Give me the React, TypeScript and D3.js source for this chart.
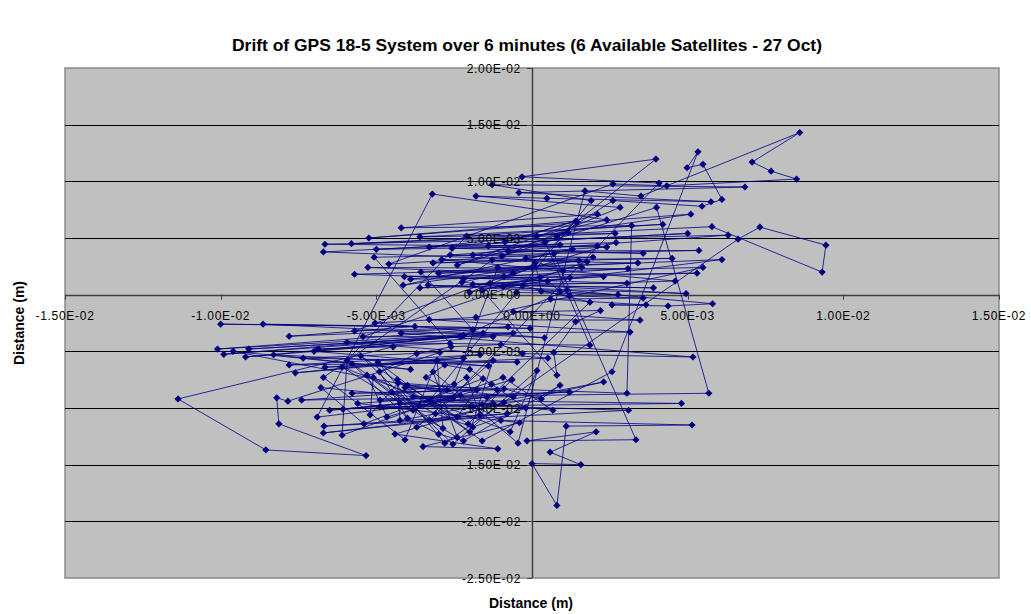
import React from "react";
import * as d3 from "d3";

// GPS drift track, values in millimetres (converted to metres below), in time order
const trackMM: [number, number][] = [
  [-0.5,0.2],[2.76,0.0],[-3.34,0.84],[4.95,0.1],[-1.35,1.0],[3.05,1.0],[-5.7,1.8],[1.6,2.4],[-3.0,1.9],[5.49,2.4],
  [-1.8,-2.0],[-5.04,-2.5],[0.4,-3.8],[-8.64,-2.6],[-0.06,-2.97],[-10.0,-2.6],[-3.76,-2.8],[-7.8,-3.67],[-0.77,-2.85],[-5.7,-3.2],
  [-0.6,1.9],[-5.27,2.4],[3.08,2.3],[-2.2,1.4],[5.3,1.9],[-4.1,1.6],[1.22,1.5],[-0.93,0.7],[6.1,3.1],[-3.57,2.0],
  [-1.9,-3.1],[-10.1,-4.8],[-1.57,-3.4],[-9.9,-5.26],[-0.61,-3.4],[-9.1,-4.8],[-2.3,-3.7],[-9.2,-5.5],[-1.25,-3.7],[-5.43,-3.7],
  [1.77,2.9],[-6.7,3.77],[5.0,5.4],[-5.0,4.0],[2.1,4.3],[-2.57,4.1],[3.57,3.65],[-0.77,3.84],[5.36,3.9],[-5.07,3.3],
  [-2.63,-4.3],[-6.87,-4.8],[-4.46,-4.6],[-11.37,-9.2],[-8.55,-13.7],[-5.33,-14.2],[-8.13,-11.4],[-8.2,-9.1],[-7.84,-9.4],[-2.96,-5.1],
  [-7.35,-5.6],[-0.48,-5.95],[-7.8,-6.2],[-1.67,-5.3],[-7.6,-6.9],[-2.2,-5.6],[-6.65,-6.4],[0.51,-5.6],[-5.94,-4.2],[1.86,-4.46],
  [0.42,4.64],[-1.9,3.5],[2.4,4.2],[-6.65,4.45],[6.3,5.25],[-2.63,3.5],[1.96,3.3],[-3.18,2.8],[4.5,3.2],[-1.28,3.05],
  [-6.7,-7.3],[-4.08,-12.8],[-3.05,-5.8],[-2.86,-11.8],[-5.78,-6.1],[-3.7,-11.7],[-1.25,-5.8],[-2.0,-12.1],[-4.95,-5.95],[-2.8,-13.1],
  [6.62,4.9],[7.32,5.96],[9.44,4.37],[9.32,1.99],[5.78,6.0],[-5.8,4.5],[2.67,5.4],[-3.6,5.1],[4.2,6.2],[-2.1,5.17],
  [-5.94,-5.8],[-6.1,-12.4],[-0.93,-7.3],[0.67,-10.2],[-6.78,-8.2],[-5.4,-11.4],[-1.57,-7.4],[-2.4,-10.8],[-5.1,-7.3],[-5.2,-10.6],
  [-4.3,-7.8],[-1.12,-8.4],[-5.78,-8.7],[-1.77,-8.4],[-4.08,-8.2],[-2.73,-8.4],[-7.4,-9.3],[-0.6,-9.0],[-4.0,-8.0],[3.05,-8.7],
  [3.2,6.1],[-4.2,5.9],[2.1,7.1],[-0.87,4.64],[1.41,6.5],[-5.24,5.0],[5.1,7.1],[0.16,5.17],[2.4,6.6],[-3.2,8.88],
  [-6.9,-10.8],[-1.45,-9.05],[-6.5,-10.2],[-2.54,-9.15],[-6.07,-10.1],[-1.25,-9.6],[-4.88,-9.3],[1.2,-8.6],[-3.82,-9.0],[5.68,-8.7],
  [4.0,7.7],[-0.96,3.4],[2.83,7.7],[-1.8,8.7],[0.48,8.5],[5.75,8.2],[-0.42,9.0],[6.84,9.5],[-1.28,9.7],[1.9,8.3],
  [-3.28,-9.3],[4.8,-9.6],[-4.88,-9.9],[-1.9,-9.9],[-4.24,-9.6],[3.1,-10.2],[-6.68,-11.6],[-0.8,-10.5],[-6.7,-12.2],[-1.67,-10.6],
  [-2.1,-7.3],[-3.82,-10.2],[-5.3,-7.1],[-4.66,-10.8],[-0.64,-7.5],[-2.05,-11.4],[-4.33,-7.5],[-4.24,-11.1],[2.3,-7.7],[-3.28,-11.1],
  [4.08,9.85],[-0.32,10.4],[3.98,11.96],[0.8,5.1],[2.6,8.3],[5.46,7.8],[6.1,8.4],[5.49,11.5],[4.98,11.2],[5.33,12.6],
  [2.57,-6.8],[-1.6,-12.9],[-5.5,-5.4],[-2.54,-13.2],[0.16,-6.7],[-0.7,-12.1],[-6.1,-6.4],[-2.4,-12.6],[-3.18,-6.8],[-0.45,-13.1],
  [1.7,9.15],[3.5,8.7],[8.6,14.3],[7.07,11.7],[7.68,10.9],[8.5,10.2],[4.33,9.6],[2.6,9.77],[-4.6,2.7],[0.7,3.6],
  [3.34,-12.8],[-0.16,-12.9],[2.06,-12.1],[0.58,-13.9],[1.57,-15.0],[0.0,-14.9],[0.8,-18.6],[1.1,-11.6],[5.14,-11.5],[-1.0,-11.1],
  [-3.4,-7.3],[-2.8,-6.2],[-2.0,-6.6],[-1.3,-7.9],[-0.2,-10.0],[-1.9,-11.7],[-3.1,-10.5],[-3.6,-9.8],[-4.5,-8.6],[-2.5,-7.9],
  [-1.1,2.4],[3.4,2.8],[-2.9,3.1],[4.6,1.2],[-3.6,0.6],[2.3,1.6],[-1.9,0.9],[3.9,0.6],[-0.3,0.8],[1.86,-0.66],
  [-1.6,-9.7],[-0.9,-8.3],[0.3,-9.2],[0.9,-8.0],[-2.2,-12.9],[-3.0,-12.3],[-4.0,-10.9],[-4.9,-6.8],[-3.7,-5.2],[-2.6,-4.6],
  [-1.0,-4.4],[-0.3,-5.2],[5.17,-5.5],[-4.2,-3.4],[3.15,-3.3],[-3.3,-2.2],[3.47,-2.25],[-0.6,-1.5],[2.2,-1.4],[1.4,-2.4],
  [0.7,-5.1],[0.8,-7.1],[-1.6,0.4],[1.0,2.1],[-0.2,3.2],[1.3,4.0],[-4.14,0.84],[1.5,3.0],[-3.9,1.37],[0.26,1.5],
  [-2.0,0.2],[0.0,2.4],[-2.25,1.1],[0.9,0.3],[0.5,1.2],[-0.9,1.6],[2.7,4.6],[-1.4,4.3],[0.9,4.4],[-3.3,4.2],
  [1.16,5.5],[-2.4,2.6],[1.45,6.4],[0.1,2.8],[0.3,0.3],[1.2,-0.1],[3.57,-0.3],[0.6,-0.4],[3.66,-0.9],[2.57,-0.9],
  [4.37,-1.0],[5.8,-0.8],[1.12,0.4],[-2.2,-3.6],[-7.0,-5.0],[-1.4,-6.3],[-8.3,-5.3],[-3.9,-6.6],[-9.6,-5.0],[-2.3,-8.9],
  [-5.6,-9.6],[-0.4,-11.3],[-3.5,-13.4],[-1.1,-13.6],[-4.4,-12.3],[-0.9,-9.5],
];

const xTickValues = [-0.015, -0.01, -0.005, 0, 0.005, 0.01, 0.015];
const xTickLabels = ["-1.50E-02", "-1.00E-02", "-5.00E-03", "0.00E+00", "5.00E-03", "1.00E-02", "1.50E-02"];
const yTickValues = [0.02, 0.015, 0.01, 0.005, 0, -0.005, -0.01, -0.015, -0.02, -0.025];
const yTickLabels = ["2.00E-02", "1.50E-02", "1.00E-02", "5.00E-03", "0.00E+00", "-5.00E-03", "-1.00E-02", "-1.50E-02", "-2.00E-02", "-2.50E-02"];

const title = "Drift of GPS 18-5 System over 6 minutes (6 Available Satellites - 27 Oct)";
const xTitle = "Distance (m)";
const yTitle = "Distance (m)";

export default function App() {
  const W = 1031, H = 614;
  const L = 65, R = 999, T = 68, B = 578;
  const x = d3.scaleLinear().domain([-0.015, 0.015]).range([L, R]);
  const y = d3.scaleLinear().domain([-0.025, 0.02]).range([B, T]);
  const pts = trackMM.map(([a, b]) => [a / 1000, b / 1000] as [number, number]);
  const line = d3.line<[number, number]>().x((d) => x(d[0])).y((d) => y(d[1]));
  const diamond = d3.symbol().type(d3.symbolSquare).size(26)()!;
  const x0 = x(0), y0 = y(0);
  const font = "'Liberation Sans', Arial, sans-serif";

  return (
    <svg width={W} height={H} style={{ position: "absolute", left: 0, top: 0, background: "#fff" }} fontFamily={font}>
      <rect x={L} y={T} width={R - L} height={B - T} fill="#c0c0c0" stroke="#8a8a8a" strokeWidth={1.5} />
      {yTickValues.filter((v) => v !== 0 && v !== 0.02 && v !== -0.025).map((v) => (
        <line key={v} x1={L} x2={R} y1={Math.round(y(v)) + 0.5} y2={Math.round(y(v)) + 0.5} stroke="#000" strokeWidth={1.2} />
      ))}
      <line x1={L} x2={R} y1={Math.round(y0) + 0.5} y2={Math.round(y0) + 0.5} stroke="#404040" strokeWidth={1.5} />
      <line x1={Math.round(x0) + 0.5} x2={Math.round(x0) + 0.5} y1={T} y2={B} stroke="#404040" strokeWidth={1.5} />
      {xTickValues.map((v) => (
        <line key={"xt" + v} x1={Math.round(x(v)) + 0.5} x2={Math.round(x(v)) + 0.5} y1={y0} y2={y0 + 5} stroke="#404040" />
      ))}
      {yTickValues.map((v) => (
        <line key={"yt" + v} x1={x0 - 5} x2={x0} y1={Math.round(y(v)) + 0.5} y2={Math.round(y(v)) + 0.5} stroke="#404040" />
      ))}
      <path d={line(pts)!} fill="none" stroke="#000080" strokeWidth={1} strokeOpacity={0.8} />
      {pts.map((p, i) => (
        <path key={i} d={diamond} transform={`translate(${x(p[0])},${y(p[1])}) rotate(45)`} fill="#000080" />
      ))}
      {xTickValues.map((v, i) => (
        <text key={"xl" + v} x={x(v)} y={320} textAnchor="middle" fontSize={12} letterSpacing={0.7} fill="#000">
          {xTickLabels[i]}
        </text>
      ))}
      {yTickValues.map((v, i) => (
        <text key={"yl" + v} x={521} y={y(v) + 4.5} textAnchor="end" fontSize={12} letterSpacing={0.7} fill="#000">
          {yTickLabels[i]}
        </text>
      ))}
      <text x={527} y={51} textAnchor="middle" fontSize={17} fontWeight="bold" fill="#000" textLength={590} lengthAdjust="spacingAndGlyphs">{title}</text>
      <text x={531} y={608} textAnchor="middle" fontSize={14} fontWeight="bold" fill="#000">{xTitle}</text>
      <text transform={`translate(24,${(T + B) / 2}) rotate(-90)`} textAnchor="middle" fontSize={14} fontWeight="bold" fill="#000">{yTitle}</text>
    </svg>
  );
}
